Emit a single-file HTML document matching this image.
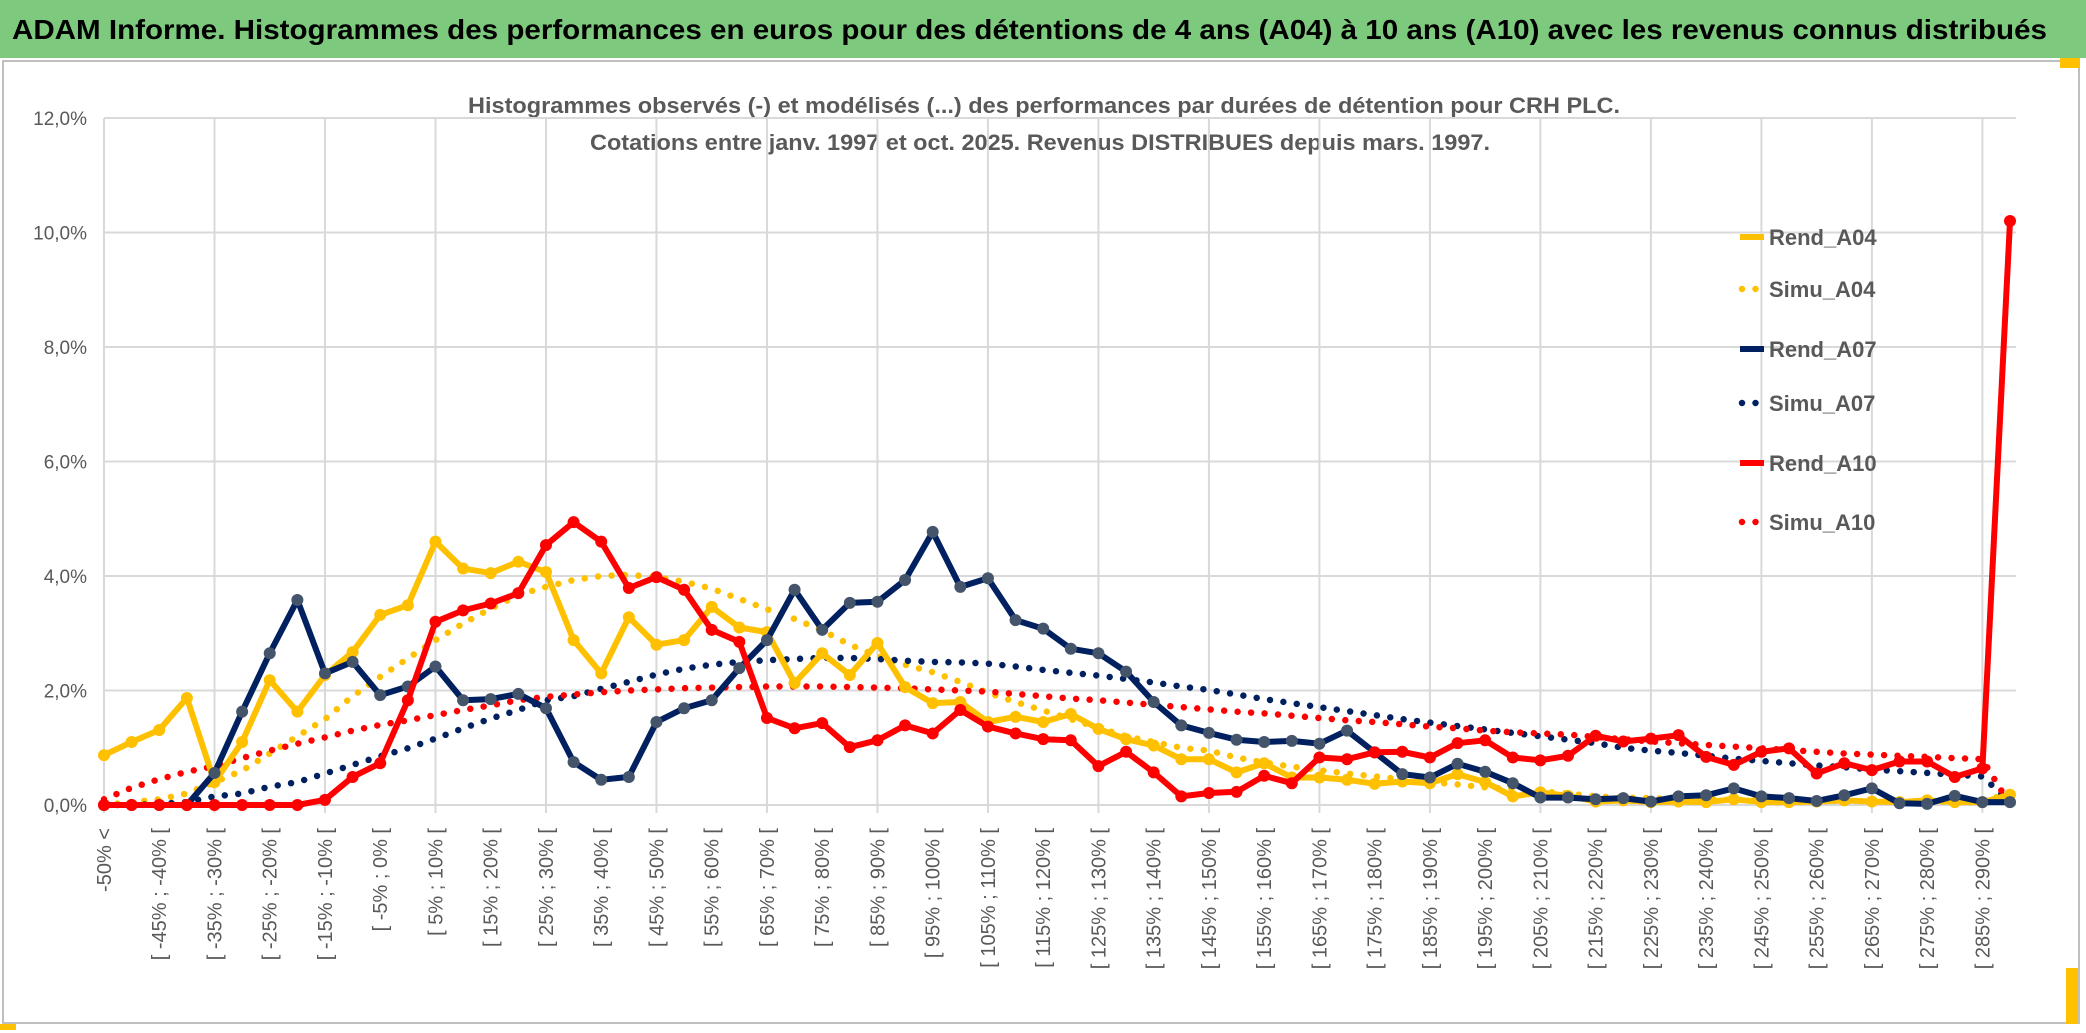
<!DOCTYPE html>
<html><head><meta charset="utf-8"><style>
html,body{margin:0;padding:0;background:#fff;}
svg{display:block;font-family:"Liberation Sans Narrow","Liberation Sans",sans-serif;}
</style></head><body>
<svg id="chart" width="2086" height="1033" viewBox="0 0 2086 1033" xmlns="http://www.w3.org/2000/svg">
<rect x="0" y="0" width="2086" height="58" fill="#7dc97d"/>
<text x="12" y="39" font-size="28" font-weight="bold" fill="#000" textLength="2035" lengthAdjust="spacingAndGlyphs" font-family="Liberation Sans, sans-serif">ADAM Informe. Histogrammes des performances en euros pour des détentions de 4 ans (A04) à 10 ans (A10) avec les revenus connus distribués</text>
<rect x="3" y="61" width="2076" height="962" fill="#fff" stroke="#bfbfbf" stroke-width="2"/>
<rect x="2060" y="58" width="20" height="10" fill="#ffc000"/>
<rect x="2066" y="968" width="12" height="56" fill="#ffc000"/>
<rect x="0" y="1024" width="16" height="6" fill="#ffc000"/>
<text x="1044" y="113" font-size="22" fill="#595959" font-weight="bold" text-anchor="middle" textLength="1152" lengthAdjust="spacingAndGlyphs">Histogrammes observés (-) et modélisés (...) des performances par durées de détention pour CRH PLC.</text>
<text x="1040" y="150" font-size="22" fill="#595959" font-weight="bold" text-anchor="middle" textLength="900" lengthAdjust="spacingAndGlyphs">Cotations entre janv. 1997 et oct. 2025. Revenus DISTRIBUES depuis mars. 1997.</text>
<g id="grid"></g><g id="yaxis"></g><g id="xaxis"></g><g id="series"></g><g id="legend"></g>
</svg>
<script>
const categories = [];
categories.push('-50% <');
for (let i = 1; i < 70; i++) { const a = -55 + 5 * i; categories.push('[ ' + a + '% ; ' + (a + 5) + '% ['); }
const yTicks = [0, 2, 4, 6, 8, 10, 12];
const yTickLabels = ['0,0%', '2,0%', '4,0%', '6,0%', '8,0%', '10,0%', '12,0%'];
const rendA04 = [0.87,1.1,1.31,1.87,0.4,1.1,2.18,1.63,2.27,2.67,3.32,3.49,4.6,4.13,4.05,4.25,4.07,2.88,2.3,3.28,2.8,2.88,3.46,3.1,3.02,2.13,2.65,2.27,2.83,2.06,1.78,1.8,1.45,1.54,1.45,1.59,1.33,1.15,1.04,0.8,0.8,0.57,0.73,0.48,0.48,0.44,0.37,0.41,0.38,0.54,0.4,0.15,0.22,0.16,0.06,0.08,0.05,0.06,0.05,0.1,0.05,0.05,0.06,0.08,0.06,0.05,0.08,0.05,0.05,0.18];
const simuA04 = [0,0.05,0.1,0.2,0.4,0.6,0.9,1.2,1.5,1.9,2.24,2.56,2.88,3.17,3.43,3.67,3.81,3.93,4.0,4.02,3.98,3.9,3.78,3.6,3.42,3.25,3.05,2.8,2.6,2.45,2.32,2.15,1.96,1.8,1.65,1.5,1.35,1.2,1.1,1.0,0.95,0.83,0.74,0.67,0.61,0.55,0.5,0.45,0.4,0.36,0.31,0.28,0.24,0.2,0.15,0.13,0.12,0.1,0.1,0.09,0.08,0.08,0.07,0.07,0.06,0.06,0.06,0.06,0.07,0.2];
const rendA07 = [0,0,0,0,0.56,1.63,2.65,3.58,2.3,2.5,1.92,2.07,2.42,1.83,1.85,1.94,1.69,0.75,0.44,0.49,1.45,1.69,1.83,2.39,2.88,3.76,3.06,3.53,3.55,3.93,4.77,3.81,3.96,3.23,3.08,2.73,2.65,2.33,1.8,1.39,1.26,1.14,1.1,1.12,1.07,1.3,0.92,0.54,0.48,0.72,0.58,0.38,0.13,0.13,0.1,0.12,0.06,0.15,0.17,0.29,0.15,0.12,0.07,0.17,0.29,0.03,0.02,0.16,0.05,0.05];
const simuA07 = [0,0,0.02,0.05,0.15,0.2,0.32,0.4,0.55,0.7,0.85,0.99,1.16,1.34,1.51,1.66,1.83,1.9,2.03,2.15,2.28,2.38,2.45,2.5,2.53,2.55,2.57,2.57,2.55,2.52,2.5,2.49,2.47,2.42,2.36,2.31,2.26,2.2,2.14,2.07,2.01,1.93,1.85,1.78,1.71,1.64,1.57,1.5,1.44,1.38,1.32,1.26,1.2,1.14,1.08,1.0,0.95,0.91,0.86,0.81,0.77,0.73,0.69,0.66,0.62,0.59,0.56,0.53,0.5,0.05];
const rendA10 = [0,0,0,0,0,0,0,0,0.09,0.49,0.73,1.83,3.2,3.4,3.52,3.7,4.54,4.94,4.6,3.79,3.98,3.76,3.06,2.85,1.52,1.34,1.43,1.01,1.13,1.39,1.25,1.66,1.37,1.25,1.15,1.13,0.68,0.93,0.57,0.15,0.21,0.23,0.51,0.38,0.83,0.8,0.92,0.93,0.83,1.08,1.13,0.83,0.78,0.86,1.21,1.11,1.16,1.22,0.84,0.7,0.93,0.99,0.55,0.73,0.61,0.76,0.76,0.49,0.64,10.2];
const simuA10 = [0.1,0.3,0.45,0.58,0.68,0.82,0.95,1.07,1.18,1.3,1.4,1.48,1.57,1.66,1.74,1.83,1.89,1.93,1.97,2.0,2.02,2.04,2.05,2.06,2.07,2.07,2.07,2.06,2.05,2.04,2.02,2.0,1.98,1.94,1.9,1.86,1.83,1.79,1.75,1.71,1.67,1.63,1.6,1.56,1.52,1.48,1.45,1.41,1.37,1.34,1.3,1.27,1.25,1.23,1.19,1.15,1.11,1.08,1.05,1.02,0.99,0.96,0.93,0.9,0.88,0.86,0.84,0.82,0.8,0.0];

const NS = 'http://www.w3.org/2000/svg';
const X0 = 104, X1 = 2010, Y0 = 805, YTOP = 118, YMAX = 12;
function xs(i) { return X0 + i * (X1 - X0) / (categories.length - 1); }
function ys(v) { return Y0 - v * (Y0 - YTOP) / YMAX; }
function mk(tag, parent, attrs) { const e = document.createElementNS(NS, tag); for (const k in attrs) e.setAttribute(k, attrs[k]); parent.appendChild(e); return e; }

const grid = document.getElementById('grid');
yTicks.forEach((t, i) => {
  const l = mk('line', grid, {x1: X0, x2: 2016, y1: ys(t), y2: ys(t), stroke: '#d9d9d9', 'stroke-width': 2});
  
  
});
for (let i = 0; i < categories.length; i += 4) {
  const l = mk('line', grid, {x1: xs(i), x2: xs(i), y1: YTOP, y2: Y0 + 8, stroke: '#d9d9d9', 'stroke-width': 2});
  
  
}
const yax = document.getElementById('yaxis');
yTicks.forEach((t, i) => {
  const tx = mk('text', yax, {x: 87, y: ys(t) + 7, 'text-anchor': 'end', 'font-size': 19, fill: '#595959'});
  tx.textContent = yTickLabels[i];
  
  
});
const xax = document.getElementById('xaxis');
categories.forEach((c, i) => {
  if (i % 2 !== 0) return;
  const x = xs(i) + 7, y = 828;
  const tx = mk('text', xax, {x: x, y: y, 'text-anchor': 'end', 'font-size': 20, fill: '#595959', transform: 'rotate(-90 ' + x + ' ' + y + ')', 'font-family': 'Liberation Sans, sans-serif'});
  tx.textContent = c;
  
  
});

const ser = document.getElementById('series');
function pts(arr) { return arr.map((v, i) => xs(i).toFixed(1) + ',' + ys(v).toFixed(1)).join(' '); }
function dotted(arr, color, name) {
  const p = mk('polyline', ser, {points: pts(arr), fill: 'none', stroke: color, 'stroke-width': 6.5, 'stroke-linecap': 'round', 'stroke-dasharray': '0 13.5'});
  
  
}
function solid(arr, color, mcolor, name) {
  const g = mk('g', ser, {});
  
  
  mk('polyline', g, {points: pts(arr), fill: 'none', stroke: color, 'stroke-width': 6, 'stroke-linejoin': 'round'});
  arr.forEach((v, i) => {
    const c = mk('circle', g, {cx: xs(i), cy: ys(v), r: 6, fill: mcolor});
    
    
  });
}
dotted(simuA04, '#ffc000', 'simu-a04-line');
dotted(simuA07, '#002060', 'simu-a07-line');
dotted(simuA10, '#ff0000', 'simu-a10-line');
solid(rendA04, '#ffc000', '#ffc000', 'rend-a04-line');
solid(rendA07, '#002060', '#44546a', 'rend-a07-line');
solid(rendA10, '#ff0000', '#ff0000', 'rend-a10-line');

const leg = document.getElementById('legend');
const legendNames = ['Rend_A04', 'Simu_A04', 'Rend_A07', 'Simu_A07', 'Rend_A10', 'Simu_A10'];
const legendColors = ['#ffc000', '#ffc000', '#002060', '#002060', '#ff0000', '#ff0000'];
const legendY = [237, 289, 349, 403, 463, 522];
legendNames.forEach((n, i) => {
  const g = mk('g', leg, {});
  
  
  const y = legendY[i];
  if (i % 2 === 0) {
    mk('line', g, {x1: 1740, x2: 1764, y1: y, y2: y, stroke: legendColors[i], 'stroke-width': 6});
  } else {
    mk('line', g, {x1: 1742, x2: 1764, y1: y, y2: y, stroke: legendColors[i], 'stroke-width': 6.5, 'stroke-linecap': 'round', 'stroke-dasharray': '0 13.5'});
  }
  const t = mk('text', g, {x: 1769, y: y + 8, 'font-size': 22, 'font-weight': 'bold', fill: '#595959'});
  t.textContent = n;
});
</script>
</body></html>
